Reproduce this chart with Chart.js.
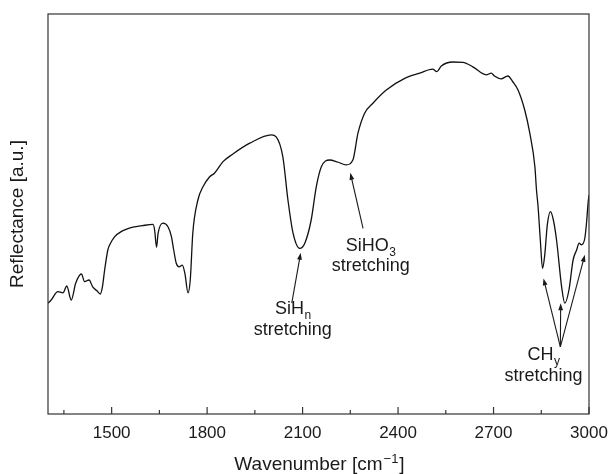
<!DOCTYPE html>
<html>
<head>
<meta charset="utf-8">
<script src="https://cdn.jsdelivr.net/npm/chart.js@4.4.1/dist/chart.umd.min.js"></script>
<style>
  html, body { margin: 0; padding: 0; background: #fff; }
  #wrap { position: relative; width: 610px; height: 474px; }
</style>
</head>
<body>
<div id="wrap"><canvas id="spectrum-chart"></canvas></div>
<script>
// IR reflectance spectrum
const wavenumber = [
    1300, 1310, 1331, 1347, 1359, 1373, 1387, 1405, 1415, 1429, 1441, 1454, 1464, 1471, 1478, 1488,
    1494, 1509, 1530, 1567, 1597, 1630, 1635, 1641, 1646, 1661, 1677, 1688, 1695, 1703, 1712, 1722,
    1730, 1740, 1747, 1755, 1771, 1787, 1808, 1823, 1850, 1881, 1934, 2002, 2017, 2038, 2054, 2070,
    2091, 2107, 2127, 2143, 2159, 2185, 2210, 2237, 2258, 2274, 2295, 2321, 2363, 2421, 2468, 2509,
    2522, 2536, 2572, 2604, 2635, 2677, 2693, 2703, 2724, 2745, 2761, 2777, 2798, 2814, 2830, 2835,
    2840, 2847, 2854, 2861, 2869, 2879, 2888, 2898, 2914, 2924, 2937, 2950, 2961, 2969, 2976, 2987,
    2993, 2997, 3000
];
const reflectance = [
    27.7, 28.5, 30.6, 30.3, 32.0, 28.5, 32.7, 35.0, 33.1, 33.5, 31.7, 30.8, 30.0, 31.8, 36.0, 41.0,
    42.3, 44.3, 45.6, 46.7, 47.1, 47.4, 46.0, 41.7, 45.2, 47.7, 46.8, 44.3, 41.0, 37.7, 36.8, 37.2,
    35.2, 30.3, 33.5, 45.2, 53.5, 56.8, 59.3, 60.2, 63.1, 65.0, 67.7, 69.8, 69.3, 64.3, 53.5, 45.2,
    41.4, 42.7, 48.5, 56.8, 61.8, 63.5, 63.0, 62.3, 63.5, 70.2, 75.2, 77.7, 81.0, 83.9, 85.2, 86.2,
    85.6, 87.0, 88.0, 87.9, 86.8, 84.8, 85.2, 84.5, 83.8, 84.5, 83.0, 81.0, 76.0, 70.2, 61.8, 56.0,
    51.8, 43.5, 36.4, 39.8, 47.3, 50.6, 48.5, 43.5, 31.8, 27.7, 31.0, 38.5, 41.0, 42.7, 42.3, 44.0,
    48.5, 52.7, 54.7
];

const xTicks = [1350, 1500, 1650, 1800, 1950, 2100, 2250, 2400, 2550, 2700, 2850, 3000];

// band labels: arrows go from tail to tip (data units)
const bands = [
    {name: 'SiH', sub: 'n', at: [2069, 25.0], tails: [[2066, 27.7]], tips: [[2094, 40.3]]},
    {name: 'SiHO', sub: '3', at: [2314, 40.8], tails: [[2290, 46.4]], tips: [[2250, 60.3]]},
    {name: 'CH', sub: 'y', at: [2857, 13.4], tails: [[2910, 16.8], [2910, 16.8], [2910, 16.8]],
        tips: [[2857, 33.9], [2911, 27.7], [2987, 39.8]]}
];

const FONT = '"Liberation Sans", Arial, Helvetica, sans-serif';
const INK = '#1a1a1a';

function arrow(ctx, x0, y0, x1, y1) {
    var a = Math.atan2(y1 - y0, x1 - x0);
    var len = 7, half = 2.4;
    ctx.beginPath();
    ctx.moveTo(x0, y0);
    ctx.lineTo(x1 - Math.cos(a) * len * 0.8, y1 - Math.sin(a) * len * 0.8);
    ctx.stroke();
    ctx.beginPath();
    ctx.moveTo(x1, y1);
    ctx.lineTo(x1 - Math.cos(a) * len - Math.sin(a) * half, y1 - Math.sin(a) * len + Math.cos(a) * half);
    ctx.lineTo(x1 - Math.cos(a) * len + Math.sin(a) * half, y1 - Math.sin(a) * len - Math.cos(a) * half);
    ctx.closePath();
    ctx.fill();
}

// text with a subscript, centred on cx
function subText(ctx, main, sub, cx, y, size) {
    ctx.font = size + 'px ' + FONT;
    var w1 = ctx.measureText(main).width;
    ctx.font = Math.round(size * 0.68) + 'px ' + FONT;
    var w2 = ctx.measureText(sub).width;
    var x = cx - (w1 + w2) / 2;
    ctx.textAlign = 'left';
    ctx.font = size + 'px ' + FONT;
    ctx.fillText(main, x, y);
    ctx.font = Math.round(size * 0.68) + 'px ' + FONT;
    ctx.fillText(sub, x + w1 + 0.5, y + size * 0.28);
}

const framePlugin = {
    id: 'frame',
    afterDraw(chart) {
        var ctx = chart.ctx, area = chart.chartArea;
        var xs = chart.scales.x, ys = chart.scales.y;
        ctx.save();
        ctx.strokeStyle = '#333';
        ctx.fillStyle = INK;
        ctx.lineWidth = 1.2;
        ctx.strokeRect(area.left, area.top, area.right - area.left, area.bottom - area.top);

        // inward tick marks on the bottom axis
        xTicks.forEach(function (v) {
            var px = xs.getPixelForValue(v);
            var l = v % 300 === 0 ? 7 : 4;
            ctx.beginPath();
            ctx.moveTo(px, area.bottom);
            ctx.lineTo(px, area.bottom - l);
            ctx.stroke();
        });

        // x axis title with superscript
        var size = 19;
        ctx.textBaseline = 'alphabetic';
        ctx.font = size + 'px ' + FONT;
        var a = 'Wavenumber [cm', b = '\u22121', c = ']';
        var wa = ctx.measureText(a).width, wc = ctx.measureText(c).width;
        ctx.font = '13px ' + FONT;
        var wb = ctx.measureText(b).width;
        var x = (area.left + area.right) / 2 - (wa + wb + wc) / 2;
        var y = 470;
        ctx.textAlign = 'left';
        ctx.font = size + 'px ' + FONT;
        ctx.fillText(a, x, y);
        ctx.font = '13px ' + FONT;
        ctx.fillText(b, x + wa + 1, y - 7);
        ctx.font = size + 'px ' + FONT;
        ctx.fillText(c, x + wa + wb + 2, y);

        // band annotations
        ctx.lineWidth = 1.1;
        ctx.strokeStyle = INK;
        bands.forEach(function (b) {
            for (var i = 0; i < b.tips.length; i++) {
                arrow(ctx,
                    xs.getPixelForValue(b.tails[i][0]), ys.getPixelForValue(b.tails[i][1]),
                    xs.getPixelForValue(b.tips[i][0]), ys.getPixelForValue(b.tips[i][1]));
            }
            var cx = xs.getPixelForValue(b.at[0]);
            var cy = ys.getPixelForValue(b.at[1]);
            subText(ctx, b.name, b.sub, cx, cy, 18);
            ctx.font = '18px ' + FONT;
            ctx.textAlign = 'center';
            ctx.fillText('stretching', cx, cy + 20.5);
        });
        ctx.restore();
    }
};

var config = {
    type: 'line',
    data: {
        datasets: [
            {
                data: wavenumber.map(function (w, i) { return {x: w, y: reflectance[i]}; }),
                borderColor: '#111',
                borderWidth: 1.3,
                pointRadius: 0,
                fill: false,
                cubicInterpolationMode: 'monotone'
            }
        ]
    },
    options: {
        responsive: false,
        animation: false,
        layout: {
            padding: {left: 0, right: 21, top: 14, bottom: 0}
        },
        plugins: {
            legend: {display: false},
            tooltip: {enabled: false}
        },
        scales: {
            x: {
                type: 'linear',
                min: 1300,
                max: 3000,
                afterBuildTicks: function (axis) {
                    axis.ticks = xTicks.map(function (v) { return {value: v}; });
                },
                afterFit: function (axis) {
                    axis.height = 60;
                    axis.paddingLeft = 0;
                    axis.paddingRight = 0;
                },
                grid: {display: false, drawTicks: false},
                border: {display: false},
                ticks: {
                    autoSkip: false,
                    maxRotation: 0,
                    padding: 9,
                    color: INK,
                    font: {family: FONT, size: 17},
                    callback: function (v) { return v % 300 === 0 ? String(v) : ''; }
                }
            },
            y: {
                min: 0,
                max: 100,
                afterFit: function (axis) {
                    axis.width = 48;
                    axis.paddingTop = 0;
                    axis.paddingBottom = 0;
                },
                grid: {display: false, drawTicks: false},
                border: {display: false},
                ticks: {display: false},
                title: {
                    display: true,
                    text: 'Reflectance [a.u.]',
                    color: INK,
                    font: {family: FONT, size: 19},
                    padding: {top: 6, bottom: 0}
                }
            }
        }
    },
    plugins: [framePlugin]
};

var canvas = document.getElementById('spectrum-chart');
canvas.width = 610;
canvas.height = 474;
canvas.style.width = '610px';
canvas.style.height = '474px';
window.spectrumChart = new Chart(canvas.getContext('2d'), config);
</script>
</body>
</html>
